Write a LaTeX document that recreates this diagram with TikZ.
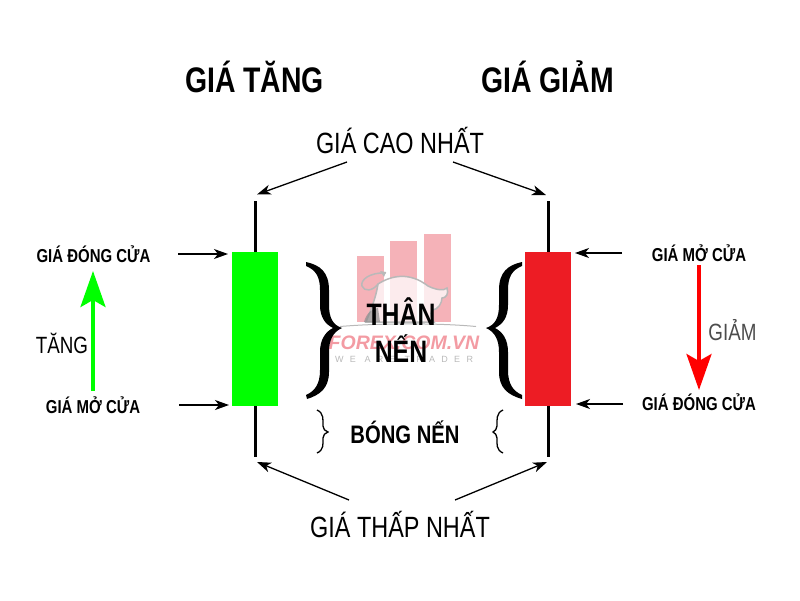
\documentclass[tikz,border=0pt]{standalone}
\usepackage{fontspec}
\setmainfont{Liberation Sans}
\newfontfamily\narrowfont[FakeStretch=0.80]{Liberation Sans}
\newfontfamily\wmfont[LetterSpace=70]{Liberation Sans}
\usetikzlibrary{arrows.meta}
\definecolor{upgreen}{RGB}{0,255,0}
\definecolor{downred}{RGB}{237,28,36}
\definecolor{arrowred}{RGB}{255,0,0}
\definecolor{wmpink}{RGB}{240,130,140}
\definecolor{wmbar}{RGB}{245,178,184}
\definecolor{wmgray}{RGB}{185,185,185}
\tikzset{
  wick/.style={line width=3pt,black},
  body/.style={draw=none,minimum width=46pt,minimum height=154pt,inner sep=0pt},
  pointer/.style={line width=1.3pt,black,-{Stealth[length=14pt,width=10pt,inset=4pt]}},
  trend/.style={line width=3.6pt,-{Stealth[length=36pt,width=25pt,inset=7pt]}},
  label/.style={inner sep=0pt,anchor=base},
  heading/.style={label,font=\narrowfont\bfseries\fontsize{35.5}{38}\selectfont},
  extreme/.style={label,font=\narrowfont\fontsize{29.3}{32}\selectfont},
  price/.style={label,font=\narrowfont\bfseries\fontsize{18.7}{20}\selectfont},
  trendtext/.style={label,font=\narrowfont\fontsize{23.5}{26}\selectfont},
  part/.style={label,font=\narrowfont\bfseries\fontsize{31}{33}\selectfont},
  bar/.style={fill=wmbar,draw=none},
  bull/.style={draw=wmgray,line width=1.5pt,fill=white,fill opacity=.75},
}
\begin{document}
\begin{tikzpicture}[x=1pt,y=-1pt]
\useasboundingbox (0,0) rectangle (800,600);
% watermark
\fill[bar] (357,256) rectangle (384,322);
\fill[bar] (390,241) rectangle (417,322);
\fill[bar] (424,234) rectangle (451,322);
\draw[bull] (378,284) .. controls (392,275) and (410,272) .. (428,286)
  .. controls (436,290) and (444,291) .. (447,288)
  .. controls (449,294) and (446,298) .. (442,298)
  .. controls (442,303) and (438,310) .. (432,310)
  .. controls (430,315) and (432,319) .. (434,322) -- (366,322)
  .. controls (370,312) and (376,298) .. (378,284) -- cycle;
\draw[wmgray,line width=1.5pt] (386,273) .. controls (370,272) and (360,280) .. (362,286)
  .. controls (364,292) and (373,291) .. (378,284);
\fill[wmgray] (380,271) -- (386,272) -- (384,277) -- cycle;
\fill[black!45,opacity=.7] (364,322) .. controls (366,314) and (372,308) .. (378,308) -- (380,322) -- cycle;
\draw[wmgray,line width=1pt] (340,326.5) .. controls (380,323) and (440,323) .. (476,326.5);
\node[inner sep=0pt,font=\bfseries\itshape\fontsize{19.5}{21}\selectfont,text=wmpink,opacity=.8] (wm) at (404,343) {FOREX.COM.VN};
\node[inner sep=0pt,font=\wmfont\fontsize{9}{11}\selectfont,text=wmgray] (wm2) at (404,359) {WE ARE TRADER};
% wicks
\coordinate (ltop) at (255.5,201); \coordinate (lbot) at (255.5,457);
\coordinate (rtop) at (548.5,201); \coordinate (rbot) at (548.5,457);
\draw[wick] (ltop) -- (lbot);
\draw[wick] (rtop) -- (rbot);
\node[body,fill=upgreen] (gbody) at (255,329) {};
\node[body,fill=downred] (rbody) at (548,329) {};
% headings
\node[heading] (h1) at (254.5,92) {GIÁ TĂNG};
\node[heading] (h2) at (547.5,92) {GIÁ GIẢM};
\node[extreme] (hi) at (400,153) {GIÁ CAO NHẤT};
\node[extreme] (lo) at (400,537) {GIÁ THẤP NHẤT};
% extreme pointers
\coordinate (hil) at (347,162); \coordinate (hir) at (453,162);
\coordinate (lol) at (349,500); \coordinate (lor) at (455,500);
\coordinate (hilE) at (257,194.5); \coordinate (hirE) at (546,195);
\coordinate (lolE) at (257,462); \coordinate (lorE) at (547,462);
\draw[pointer] (hil) -- (hilE);
\draw[pointer] (hir) -- (hirE);
\draw[pointer] (lol) -- (lolE);
\draw[pointer] (lor) -- (lorE);
% price labels
\node[price] (lc) at (93.5,262.5) {GIÁ ĐÓNG CỬA};
\node[price] (lm) at (93,413) {GIÁ MỞ CỬA};
\node[price] (rm) at (699,261) {GIÁ MỞ CỬA};
\node[price] (rc) at (699,410) {GIÁ ĐÓNG CỬA};
\coordinate (a1) at (178,254); \coordinate (a1e) at (228,254);
\coordinate (a2) at (179,405); \coordinate (a2e) at (229,405);
\coordinate (a3) at (622,253); \coordinate (a3e) at (575,253);
\coordinate (a4) at (623,404); \coordinate (a4e) at (576,404);
\draw[pointer] (a1) -- (a1e);
\draw[pointer] (a2) -- (a2e);
\draw[pointer] (a3) -- (a3e);
\draw[pointer] (a4) -- (a4e);
% trend arrows
\coordinate (t1) at (93,391); \coordinate (t1e) at (93,271);
\coordinate (t2) at (699,265); \coordinate (t2e) at (699,390);
\draw[trend,upgreen] (t1) -- (t1e);
\draw[trend,arrowred] (t2) -- (t2e);
\node[trendtext] (tang) at (62,353) {TĂNG};
\node[trendtext,text=black!70] (giam) at (732.5,340) {GIẢM};
% big braces
\fill (306,262) .. controls (320,265) and (329,272) .. (329,290)
  -- (329,305) .. controls (329,318) and (333,325) .. (342,328)
  .. controls (333,332) and (329,340) .. (329,352)
  -- (329,372) .. controls (329,388) and (320,395) .. (307,399)
  -- (306,395) .. controls (315,391) and (320,384) .. (320,370)
  -- (320,352) .. controls (320,340) and (325,332) .. (333,328)
  .. controls (325,324) and (320,317) .. (320,305)
  -- (320,290) .. controls (320,277) and (316,270) .. (306,266) -- cycle;
\fill (522,262) .. controls (508,265) and (499,272) .. (499,290)
  -- (499,305) .. controls (499,318) and (495,325) .. (486,328)
  .. controls (495,332) and (499,340) .. (499,352)
  -- (499,372) .. controls (499,388) and (508,395) .. (522,399)
  -- (522,395) .. controls (513,391) and (508,384) .. (508,370)
  -- (508,352) .. controls (508,340) and (503,332) .. (495,328)
  .. controls (503,324) and (508,317) .. (508,305)
  -- (508,290) .. controls (508,277) and (512,270) .. (522,266) -- cycle;
% small braces
\draw[line width=1.3pt] (317,410) .. controls (324,413) and (323,420) .. (323,426) .. controls (323,429) and (325,431) .. (328,432) .. controls (325,433) and (323,435) .. (323,438) .. controls (323,444) and (324,450) .. (317,453);
\draw[line width=1.3pt] (503,410) .. controls (496,413) and (497,420) .. (497,426) .. controls (497,429) and (495,431) .. (493,432) .. controls (495,433) and (497,435) .. (497,438) .. controls (497,444) and (496,450) .. (503,453);
% centre labels
\node[part] (than) at (401,325) {THÂN};
\node[part] (nen) at (401,362) {NẾN};
\node[label,font=\narrowfont\bfseries\fontsize{25.3}{28}\selectfont] (bong) at (405,443) {BÓNG NẾN};
\end{tikzpicture}
\end{document}
